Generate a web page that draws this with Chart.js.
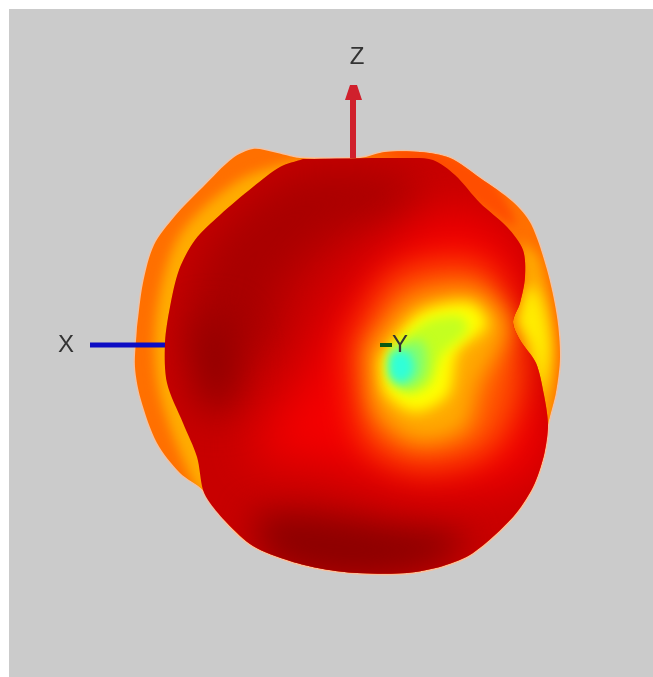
<!DOCTYPE html>
<html>
<head>
<meta charset="utf-8">
<style>
html, body { margin: 0; padding: 0; background: #ffffff; }
#wrap { position: absolute; left: 9px; top: 9px; width: 644px; height: 668px; background: #cbcbcb; }
</style>
<script src="https://cdn.jsdelivr.net/npm/chart.js@4/dist/chart.umd.min.js"></script>
</head>
<body>
<div id="wrap"><canvas id="patternChart" width="644" height="668"></canvas></div>
<script>
// Silhouettes of the radiation pattern
const backLobe = [[137,327],[143,283],[154,245],[175,216],[203,187],[233,158],[253,149],[273,152],[300,158],[360,158],[385,152],[420,152],[450,158],[480,178],[513,202],[531,224],[547,270],[557,317],[560,357],[556,392],[548,425],[544,455],[533,487],[513,517],[473,553],[443,566],[407,573],[357,573],[323,569],[290,561],[253,546],[227,523],[203,490],[180,473],[157,443],[141,400],[135,367],[137,327]];
const frontLobe = [[303,159],[280,167],[253,187],[220,215],[195,240],[179,270],[170,307],[165,343],[167,383],[183,423],[197,457],[203,490],[210,503],[227,523],[253,546],[290,561],[323,569],[357,573],[407,573],[443,566],[473,553],[513,517],[533,487],[544,455],[548,425],[544,395],[536,363],[520,340],[513,322],[520,303],[525,277],[523,250],[507,227],[480,203],[455,175],[433,160],[407,158],[303,159]];

// Colour zones on the back lobe
const backInnerLeft = [[310,158],[240,180],[180,235],[157,310],[157,380],[177,445],[205,495],[230,400],[220,250],[310,158]];
const backTopRight = [[360,148],[430,148],[490,178],[515,225],[470,200],[420,168],[360,148]];
const backRightBand = [[520,240],[540,260],[554,350],[548,425],[530,430],[525,300],[520,240]];
const backRightYellow = [[515,322],[530,285],[543,305],[550,350],[541,392],[530,345],[515,322]];

// Colour zones on the front lobe
const zoneDarkUpper = [[300,170],[400,175],[420,210],[340,230],[280,290],[270,350],[190,340],[200,260],[250,200],[300,170]];
const zoneDarkLeft = [[190,325],[225,320],[240,370],[230,410],[200,405],[190,325]];
const zoneDarkBottom = [[250,515],[300,512],[400,525],[465,535],[440,565],[350,580],[270,560],[250,515]];
const zoneRed = [[340,300],[390,245],[450,210],[515,245],[530,360],[548,440],[525,480],[420,490],[320,465],[250,455],[300,380],[340,300]];
const zoneOrange = [[350,345],[395,275],[480,265],[515,320],[520,390],[490,450],[420,468],[365,440],[350,345]];
const zoneAmber = [[368,350],[410,300],[475,290],[508,325],[480,385],[465,430],[415,442],[375,410],[368,350]];
const zoneYellow = [[380,360],[420,313],[470,303],[487,325],[458,352],[448,395],[415,412],[385,392],[380,360]];
const zoneLime = [[390,352],[425,322],[460,316],[468,330],[442,355],[430,385],[408,394],[392,378],[390,352]];
const zoneGreen = [[392,352],[415,340],[425,345],[425,375],[408,388],[392,380],[392,352]];
const zoneCyan = [[392,352],[408,352],[414,370],[403,383],[391,377],[389,362],[392,352]];

// Axis triad
const axisZ = [[353,158],[353,100]];
const axisZHead = [[350,85],[357,85],[362,100],[345,100],[350,85]];
const axisX = [[90,345],[166,345]];
const axisY = [[380,345],[392,345]];
const axisLabels = ['X', 'Y', 'Z'];
const labelSpots = [[66,345],[400,345],[357,57]];

const toPoints = (pairs) => pairs.map(([x, y]) => ({ x, y }));

function zone(pairs, color, blur, clipLobe) {
    return { data: toPoints(pairs), zoneColor: color, zoneBlur: blur, clipLobe: clipLobe, tension: 0.3 };
}

function axisLine(pairs, color, width) {
    return { data: toPoints(pairs), borderColor: color, borderWidth: width, tension: 0, borderCapStyle: 'butt' };
}

// dataset indexes of the two lobes, used as clip shapes
const BACK = 1;
const FRONT = 7;

const layers = [
    { ...zone(frontLobe, 'rgba(0,0,0,0)', 0, null), zoneHalo: 'rgba(255,190,150,0.6)' },
    { ...zone(backLobe, '#ff7000', 0, null), zoneHalo: 'rgba(255,190,150,0.7)' },
    zone(backInnerLeft, '#ffac00', 6, BACK),
    zone(backTopRight, '#ff4e00', 5, BACK),
    zone(backRightBand, '#ffa800', 6, BACK),
    zone(backRightYellow, '#ffec00', 7, BACK),
    axisLine(axisX, '#0c0cc4', 5),
    zone(frontLobe, '#c80000', 0, null),
    zone(zoneDarkUpper, '#a80000', 22, FRONT),
    zone(zoneDarkLeft, '#8c0000', 20, FRONT),
    zone(zoneDarkBottom, '#8c0000', 17, FRONT),
    zone(zoneRed, '#f40000', 24, FRONT),
    zone(zoneOrange, '#ff5800', 16, FRONT),
    zone(zoneAmber, '#ffaa00', 11, FRONT),
    zone(zoneYellow, '#ffff00', 7, FRONT),
    zone(zoneLime, '#c4ff20', 6, FRONT),
    zone(zoneGreen, '#80ff70', 6, FRONT),
    zone(zoneCyan, '#30ffd8', 5, FRONT),
    axisLine(axisZ, '#d0202c', 6),
    { data: toPoints(axisZHead), zoneColor: '#d0202c', zoneBlur: 0, clipLobe: null, tension: 0 },
    axisLine(axisY, '#0b5a12', 4)
];

// Paint the closed lobes and zones through the line elements, blurred and clipped where asked
const zonePainter = {
    id: 'zonePainter',
    beforeDatasetDraw(chart, args) {
        const ds = chart.data.datasets[args.index];
        if (!ds.zoneColor) return;
        const ctx = chart.ctx;
        ctx.save();
        if (ds.clipLobe !== null) {
            const lobe = chart.getDatasetMeta(ds.clipLobe).dataset;
            lobe.updateControlPoints(chart.chartArea);
            ctx.beginPath();
            lobe.path(ctx);
            ctx.clip();
        }
        if (ds.zoneBlur) ctx.filter = 'blur(' + ds.zoneBlur + 'px)';
        args.meta.dataset.updateControlPoints(chart.chartArea);
        ctx.beginPath();
        args.meta.dataset.path(ctx);
        if (ds.zoneHalo) {
            // pale rim the jpeg left around the shape
            ctx.strokeStyle = ds.zoneHalo;
            ctx.lineWidth = 3;
            ctx.stroke();
        }
        ctx.fillStyle = ds.zoneColor;
        ctx.fill();
        ctx.restore();
        return false;
    },
    afterDatasetsDraw(chart) {
        const ctx = chart.ctx;
        ctx.save();
        ctx.font = '24px "Liberation Sans"';
        ctx.fillStyle = '#333333';
        ctx.textAlign = 'center';
        ctx.textBaseline = 'middle';
        axisLabels.forEach((text, i) => {
            ctx.fillText(text, chart.scales.x.getPixelForValue(labelSpots[i][0]), chart.scales.y.getPixelForValue(labelSpots[i][1]));
        });
        ctx.restore();
    }
};

new Chart(document.getElementById('patternChart').getContext('2d'), {
    type: 'scatter',
    data: {
        datasets: layers.map((layer, i) => ({
            ...layer,
            showLine: true,
            pointRadius: 0,
            order: layers.length - i
        }))
    },
    options: {
        responsive: false,
        animation: false,
        layout: { padding: 0 },
        plugins: { legend: { display: false }, tooltip: { enabled: false } },
        scales: {
            x: { display: false, min: 9, max: 653 },
            y: { display: false, min: 9, max: 677, reverse: true }
        }
    },
    plugins: [zonePainter]
});
</script>
</body>
</html>
